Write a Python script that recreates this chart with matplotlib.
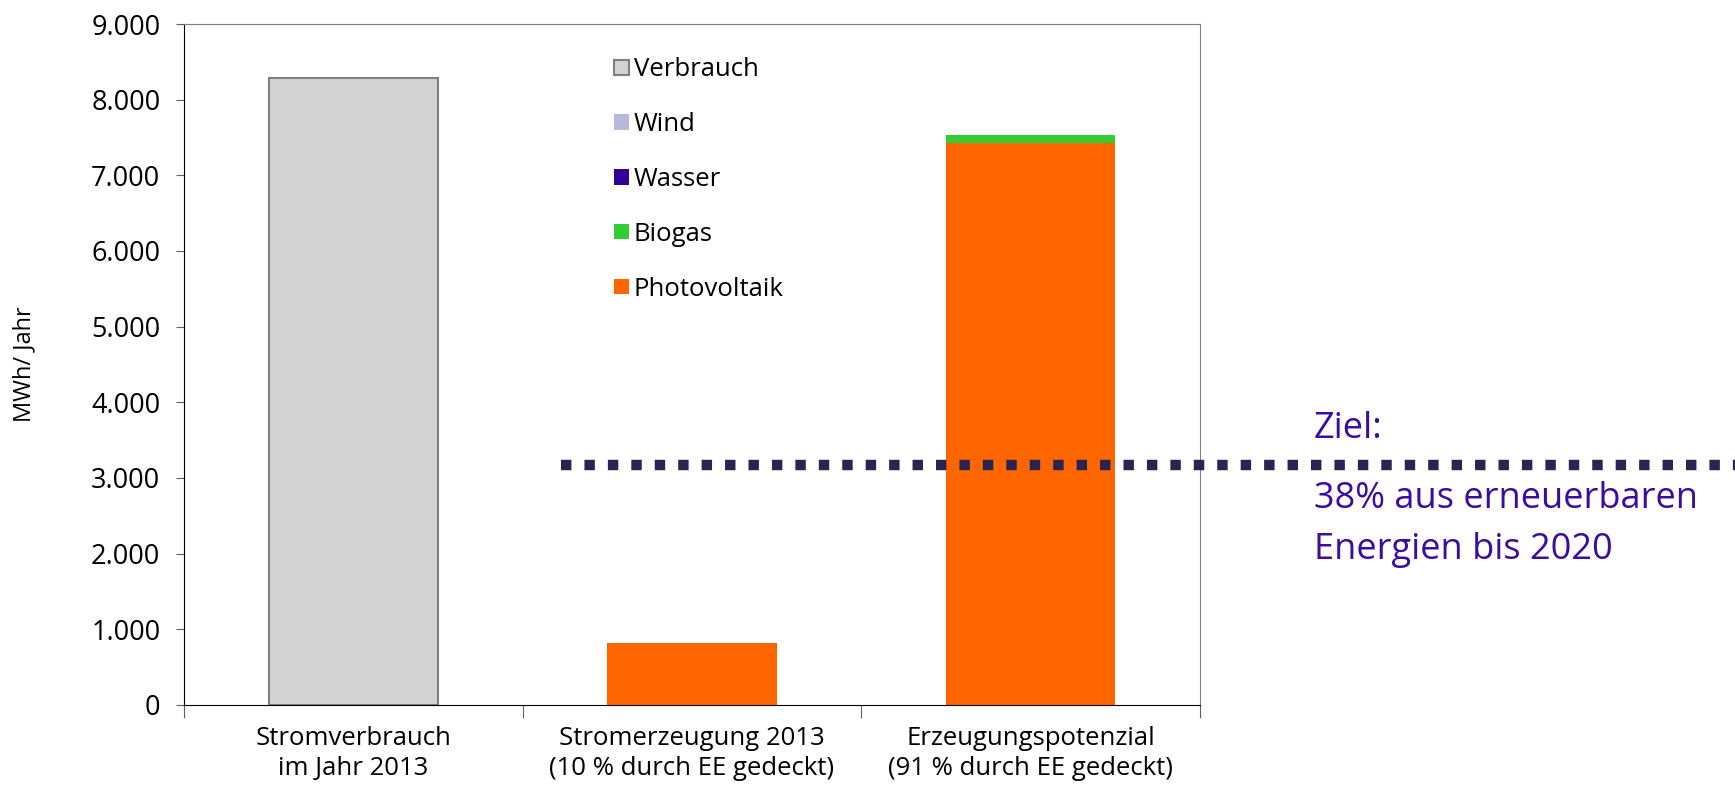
import numpy as np
import matplotlib.pyplot as plt
from matplotlib.patches import Patch
import matplotlib.transforms as mtransforms

plt.rcParams['font.family'] = ['Open Sans', 'DejaVu Sans']

# Daten
kategorien = ['Stromverbrauch\nim Jahr 2013',
              'Stromerzeugung 2013\n(10 % durch EE gedeckt)',
              'Erzeugungspotenzial\n(91 % durch EE gedeckt)']
verbrauch = [8290, 0, 0]
photovoltaik = [0, 820, 7430]
biogas = [0, 0, 100]
wasser = [0, 0, 0]
wind = [0, 0, 0]
ziel = 3170
yticks = [0, 1000, 2000, 3000, 4000, 5000, 6000, 7000, 8000, 9000]
ytick_labels = ['0', '1.000', '2.000', '3.000', '4.000', '5.000', '6.000', '7.000', '8.000', '9.000']

farben = {'Verbrauch': '#D3D3D3', 'Wind': '#B8B8DD', 'Wasser': '#330099',
          'Biogas': '#33CC33', 'Photovoltaik': '#FF6600'}

fig = plt.figure(figsize=(17.35, 7.85), dpi=100)
ax = fig.add_axes([0.106, 0.102, 0.5856, 0.8674])

x = np.arange(len(kategorien))
b = 0.5
ax.bar(x, verbrauch, b, color=farben['Verbrauch'], edgecolor='#808080', linewidth=1.5)
unten = np.zeros(3)
for name, werte in [('Photovoltaik', photovoltaik), ('Biogas', biogas),
                    ('Wasser', wasser), ('Wind', wind)]:
    ax.bar(x, werte, b, bottom=unten, color=farben[name], linewidth=0)
    unten = unten + np.array(werte)

# Ziellinie
trans = mtransforms.blended_transform_factory(ax.transAxes, ax.transData)
ax.plot([0.371, 1.53], [ziel, ziel], transform=trans, clip_on=False,
        color='#2B2350', linewidth=7.5, linestyle=(0, (1.0, 1.25)),
        dash_capstyle='butt', zorder=5)
ax.text(1.112, 0.405, 'Ziel:', transform=ax.transAxes, color='#3A0CA3',
        fontsize=26, va='center', ha='left')
ax.text(1.112, 0.265, '38% aus erneuerbaren\nEnergien bis 2020', transform=ax.transAxes,
        color='#3A0CA3', fontsize=26, va='center', ha='left', linespacing=1.55)

ax.set_xlim(-0.5, 2.5)
ax.set_ylim(0, 9000)
ax.set_yticks(yticks)
ax.set_yticklabels(ytick_labels, fontsize=19.5)
ax.set_xticks([-0.5, 0.5, 1.5, 2.5])
ax.set_xticklabels([])
ax.set_xticks(x, minor=True)
ax.set_xticklabels(kategorien, minor=True, fontsize=18.5, linespacing=1.3)
ax.tick_params(axis='x', which='minor', length=0, pad=15)
ax.tick_params(axis='x', which='major', length=9, direction='out', color='#606060')
ax.tick_params(axis='y', length=6, direction='out', color='#606060', pad=11)
ax.set_ylabel('MWh/ Jahr', fontsize=17)
ax.yaxis.set_label_coords(-0.145, 0.5)

for s in ['top', 'right']:
    ax.spines[s].set_color('#808080')
for s in ['left', 'bottom']:
    ax.spines[s].set_color('black')

handles = [Patch(facecolor=farben['Verbrauch'], edgecolor='#808080', linewidth=1.5),
           Patch(facecolor=farben['Wind']),
           Patch(facecolor=farben['Wasser']),
           Patch(facecolor=farben['Biogas']),
           Patch(facecolor=farben['Photovoltaik'])]
labels = ['Verbrauch', 'Wind', 'Wasser', 'Biogas', 'Photovoltaik']
ax.legend(handles, labels, loc='upper left', bbox_to_anchor=(0.401, 0.985),
          frameon=False, fontsize=18.5, handlelength=0.55, handleheight=0.55,
          handletextpad=0.2, labelspacing=1.16)

fig.savefig('out.png', dpi=100)
